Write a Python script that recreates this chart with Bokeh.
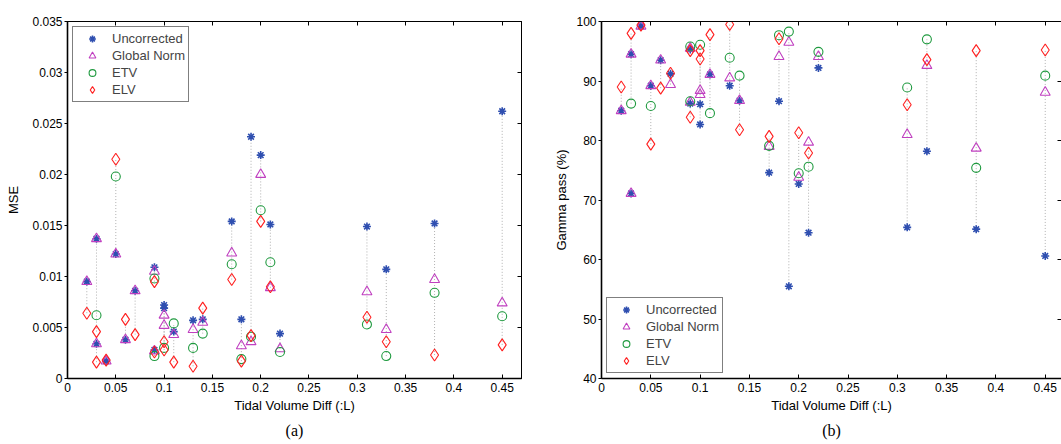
import numpy as np
from bokeh.plotting import figure
from bokeh.layouts import row
from bokeh.models import FixedTicker, Legend, LegendItem, Title, LinearAxis, Range1d
from bokeh.embed import file_html
from bokeh.resources import INLINE

nan = float("nan")

# ---------------- data ----------------
tidal_diff = [0.02, 0.03, 0.03, 0.04, 0.05, 0.06, 0.07, 0.09, 0.09, 0.10, 0.10, 0.11,
              0.13, 0.14, 0.17, 0.18, 0.19, 0.20, 0.21, 0.22, 0.31, 0.33, 0.38, 0.45]

mse_uncorrected = [0.0095, 0.0137, 0.0034, 0.0017, 0.0122, 0.0038, 0.0086, 0.0109, 0.0028, 0.0072, 0.0069, 0.0046,
                   0.0057, 0.0058, 0.0154, 0.0058, 0.0237, 0.0219, 0.0151, 0.0044, 0.0149, 0.0107, 0.0152, 0.0262]
mse_global_norm = [0.0095, 0.0137, 0.0034, 0.0017, 0.0122, 0.0038, 0.0086, 0.0105, 0.0027, 0.0062, 0.0052, 0.0043,
                   0.0048, 0.0055, 0.0123, 0.0032, 0.0036, 0.0200, 0.0089, 0.0029, 0.0085, 0.0048, 0.0097, 0.0074]
mse_etv = [nan, 0.0062, nan, nan, 0.0198, nan, nan, 0.0098, 0.0022, nan, 0.0030, 0.0054,
           0.0030, 0.0044, 0.0112, 0.0019, 0.0041, 0.0165, 0.0114, 0.0026, 0.0053, 0.0022, 0.0084, 0.0061]
mse_elv = [0.0064, 0.0046, 0.0016, 0.0018, 0.0215, 0.0058, 0.0043, 0.0095, 0.0026, 0.0036, 0.0028, 0.0016,
           0.0012, 0.0069, 0.0097, 0.0017, 0.0042, 0.0154, 0.0090, nan, 0.0060, 0.0036, 0.0023, 0.0033]

gamma_uncorrected = [85.0, 94.5, 71.1, 99.2, 89.2, 93.5, 91.2, 95.3, 86.2, 86.1, 82.7, 91.1,
                     89.2, 86.7, 74.6, 86.6, 55.5, 72.7, 64.5, 92.2, 65.4, 78.2, 65.1, 60.6]
gamma_global_norm = [85.0, 94.5, 71.1, 99.2, 89.2, 93.5, 89.4, 95.5, 86.4, 88.4, 87.7, 91.1,
                     90.5, 86.7, 79.0, 94.1, 96.5, 73.8, 79.7, 94.1, 81.0, 92.6, 78.7, 88.1]
gamma_etv = [nan, 86.2, nan, nan, 85.8, nan, nan, 95.8, 86.6, 96.1, nan, 84.6,
             93.9, 90.9, 79.1, 97.7, 98.3, 74.5, 75.6, 94.9, 88.9, 97.0, 75.4, 90.9]
gamma_elv = [89.0, 98.0, nan, 99.4, 79.4, 88.8, 91.3, 95.1, 83.9, 95.1, 93.7, 97.8,
             99.5, 81.8, 80.7, 97.1, nan, 81.3, 77.9, nan, 86.0, 93.6, 95.1, 95.2]

series_names = ["Uncorrected", "Global Norm", "ETV", "ELV"]

x_ticks = [0, 0.05, 0.1, 0.15, 0.2, 0.25, 0.3, 0.35, 0.4, 0.45]
x_tick_labels = ["0", "0.05", "0.1", "0.15", "0.2", "0.25", "0.3", "0.35", "0.4", "0.45"]
mse_ticks = [0, 0.005, 0.01, 0.015, 0.02, 0.025, 0.03, 0.035]
mse_tick_labels = ["0", "0.005", "0.01", "0.015", "0.02", "0.025", "0.03", "0.035"]
gamma_ticks = [40, 50, 60, 70, 80, 90, 100]
gamma_tick_labels = ["40", "50", "60", "70", "80", "90", "100"]

# ---------------- style ----------------
FONT = "Liberation Sans"
STYLES = [
    dict(marker="asterisk", size=8, line_color="#2f4fb0", line_width=1.6),
    dict(marker="triangle", size=10, line_color="#c040c0", line_width=1.1),
    dict(marker="circle", size=9, line_color="#1f9a3f", line_width=1.1),
    dict(marker="diamond", size=12, line_color="#ff2020", line_width=1.1),
]


def make_panel(series, y_lo, y_hi, y_ticks, y_labels, y_label, caption,
               width, b_left, b_right, b_top, x_end, legend_loc, show_right_line, y_label_standoff):
    p = figure(width=width, height=444, x_range=Range1d(0, x_end), y_range=Range1d(y_lo, y_hi),
               output_backend="svg", toolbar_location=None,
               min_border_left=b_left, min_border_right=b_right, min_border_top=b_top,
               min_border_bottom=66)
    p.grid.visible = False
    p.outline_line_color = "black" if show_right_line else None
    p.outline_line_width = 1
    p.background_fill_color = "white"
    p.border_fill_color = "white"

    for ax, ticks, labels in ((p.xaxis[0], x_ticks, x_tick_labels), (p.yaxis[0], y_ticks, y_labels)):
        ax.ticker = FixedTicker(ticks=ticks)
        ax.major_label_overrides = {t: l for t, l in zip(ticks, labels)}
        ax.minor_tick_line_color = None
        ax.axis_line_width = 1.6
        ax.axis_line_color = "black"
        ax.major_tick_line_color = "black"
        ax.major_label_text_font = FONT
        ax.major_label_text_font_size = "12px"
        ax.major_label_text_color = "black"
        ax.axis_label_text_font = FONT
        ax.axis_label_text_font_size = "13px"
        ax.axis_label_text_font_style = "normal"
        ax.axis_label_text_color = "black"
    p.xaxis[0].major_tick_in = 4
    p.xaxis[0].major_tick_out = 0
    p.yaxis[0].major_tick_in = 0
    p.yaxis[0].major_tick_out = 3
    p.xaxis[0].axis_label = "Tidal Volume Diff (:L)"
    p.xaxis[0].major_label_standoff = 4
    p.xaxis[0].axis_label_standoff = 3
    p.yaxis[0].axis_label = y_label
    p.yaxis[0].major_label_standoff = 2
    p.yaxis[0].axis_label_standoff = y_label_standoff

    # box axes: top and right with inward ticks, labels not drawn
    top = LinearAxis(ticker=FixedTicker(ticks=x_ticks), major_tick_in=4, major_tick_out=0,
                     minor_tick_line_color=None, major_label_text_font_size="0px",
                     major_label_text_color=None, major_label_standoff=0,
                     axis_line_color="black", axis_line_width=1)
    right = LinearAxis(ticker=FixedTicker(ticks=y_ticks), major_tick_in=4, major_tick_out=0,
                       minor_tick_line_color=None, major_label_text_font_size="0px",
                       major_label_text_color=None, major_label_standoff=0,
                       axis_line_color="black" if show_right_line else None, axis_line_width=1)
    p.add_layout(top, "above")
    p.add_layout(right, "right")

    # dotted vertical connectors per subject
    arr = np.array(series, dtype=float)
    lo = np.nanmin(arr, axis=0)
    hi = np.nanmax(arr, axis=0)
    p.segment(x0=tidal_diff, y0=lo, x1=tidal_diff, y1=hi, line_color="#b0b0b0",
              line_dash="1 2", line_width=1)

    items = []
    for name, vals, st in zip(series_names, series, STYLES):
        r = p.scatter(tidal_diff, vals, fill_color=None, **st)
        items.append(LegendItem(label=name, renderers=[r]))

    legend = Legend(items=items, location=legend_loc, margin=5, padding=3, spacing=0,
                    glyph_width=32, glyph_height=17, label_height=17, label_standoff=4,
                    label_text_font=FONT, label_text_font_size="13px",
                    border_line_color="black", border_line_width=1.6,
                    background_fill_color="white", background_fill_alpha=1)
    p.add_layout(legend)

    p.add_layout(Title(text=caption, align="center", text_font="Liberation Serif",
                       text_font_size="16px", text_font_style="normal", text_color="black",
                       standoff=8), "below")
    return p


p1 = make_panel([mse_uncorrected, mse_global_norm, mse_etv, mse_elv], 0, 0.035,
                mse_ticks, mse_tick_labels, "MSE", "(a)",
                width=530, b_left=67, b_right=9, b_top=21, x_end=0.47,
                legend_loc="top_left", show_right_line=True, y_label_standoff=8)
p2 = make_panel([gamma_uncorrected, gamma_global_norm, gamma_etv, gamma_elv], 40, 100,
                gamma_ticks, gamma_tick_labels, "Gamma pass (%)", "(b)",
                width=531, b_left=71, b_right=0, b_top=12, x_end=0.4665,
                legend_loc="bottom_left", show_right_line=False, y_label_standoff=4)

layout = row(p1, p2)
open("out.html", "w").write(file_html(layout, INLINE))
